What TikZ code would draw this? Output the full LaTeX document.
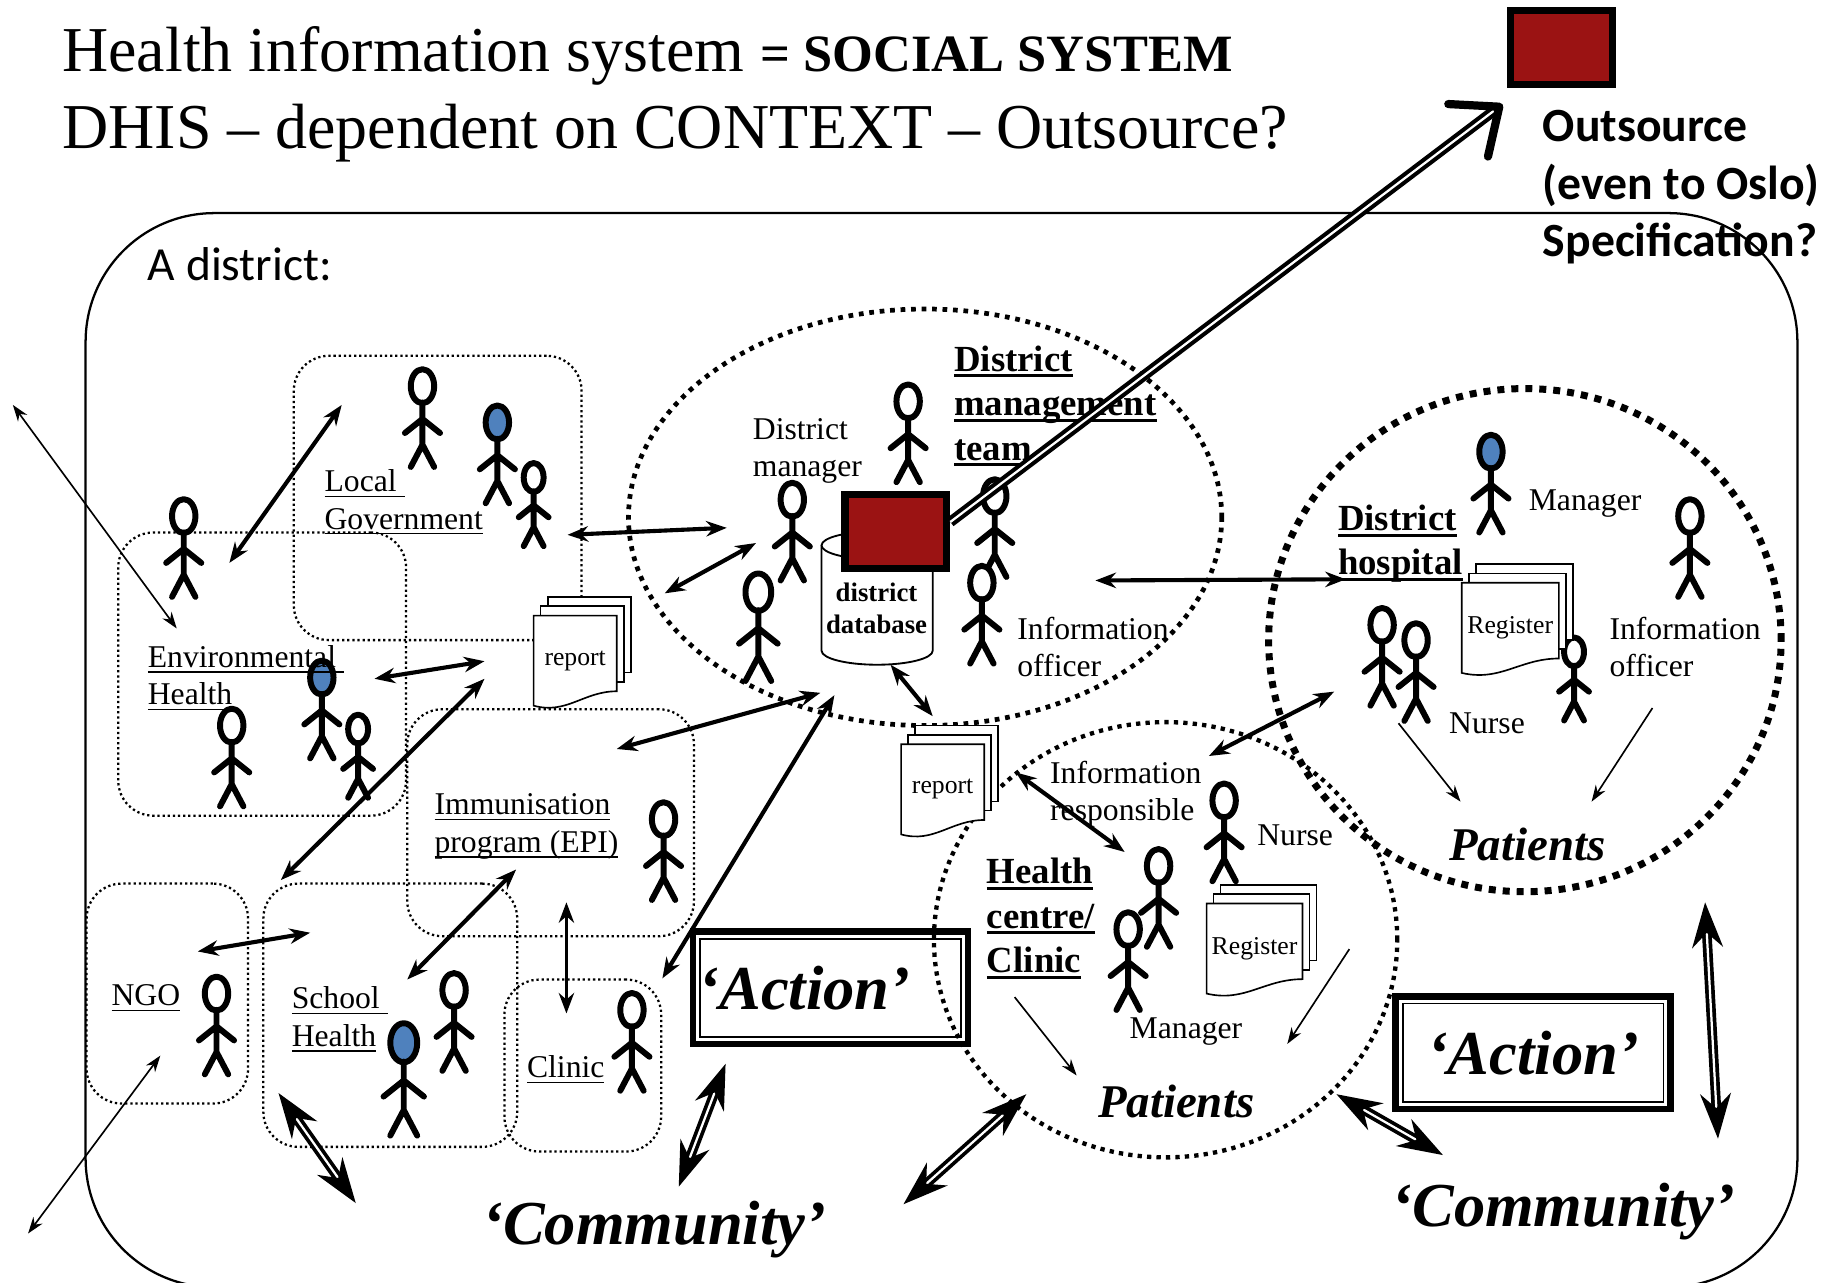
\documentclass[tikz,border=0pt]{standalone}
\usepackage{fontspec}
\setmainfont{Liberation Serif}
\newfontfamily\calibri{Carlito}
\usetikzlibrary{arrows.meta,shapes.geometric}

\definecolor{hubred}{HTML}{9B1313}
\definecolor{headblue}{HTML}{4F81BD}

% underline that also keeps a trailing space
\newcommand\undl[2][0.7pt]{\setbox0\hbox{#2}\rlap{\rule[-0.17em]{\wd0}{#1}}\box0}

% stack of three sheets: name, x, y (top left of front sheet), width, height, text
\newcommand\paperstack[6]{%
  \foreach \o in {12,6}{
    \draw[paper] ({#2+\o},{#3-1.33*\o}) rectangle ({#2+#4+\o},{#3+0.84*#5-1.33*\o});
  }
  \draw[paper] (#2,{#3+#5}) -- (#2,#3) -- ({#2+#4},#3) -- ({#2+#4},{#3+0.84*#5})
    .. controls ({#2+0.6*#4},{#3+0.84*#5}) and ({#2+0.4*#4},{#3+1.1*#5}) .. (#2,{#3+#5}) -- cycle;
  \node[doctext] (#1) at ({#2+0.5*#4},{#3+0.5*#5}) {#6};
}

\tikzset{
  stick/.style={line width=2.9pt, line cap=round, line join=round},
  person/.pic={
    \draw[stick, fill=#1] (0,0) ellipse[x radius=10, y radius=14.5];
    \draw[stick] (0,14) -- (0,51) (-15,40) -- (0,28) -- (15,40) (-10,69) -- (0,50) -- (10,69);
  },
  frame/.style={draw, line width=1.1pt, rounded corners=2.2cm, inner sep=0, outer sep=0,
    minimum width=29.26cm, minimum height=18.36cm},
  unit/.style={draw, line width=1.1pt, dash pattern=on 1.1pt off 1.4pt, rounded corners=0.6cm,
    inner sep=0, outer sep=0},
  teamring/.style={ellipse, draw, line width=2.3pt, dash pattern=on 2.3pt off 2.8pt, inner sep=0},
  hospring/.style={ellipse, draw, line width=3.4pt, dash pattern=on 3.4pt off 3.4pt, inner sep=0},
  hcring/.style={ellipse, draw, line width=2.1pt, dash pattern=on 2.1pt off 2.5pt, inner sep=0},
  redbox/.style={draw, line width=3.5pt, fill=hubred, inner sep=0,
    minimum width=1.74cm, minimum height=1.26cm},
  paper/.style={draw, fill=white, line width=0.8pt},
  cyl/.style={draw, fill=white, line width=0.9pt},
  lbl/.style={inner sep=0, anchor=north west, align=left, font=\fontsize{15.4}{18.2}\selectfont},
  blbl/.style={lbl, font=\bfseries\fontsize{17.9}{21.6}\selectfont},
  doctext/.style={inner sep=0, font=\fontsize{12.5}{15}\selectfont},
  dbtext/.style={inner sep=0, align=center, font=\bfseries\fontsize{13}{15.4}\selectfont},
  pat/.style={inner sep=0, font=\bfseries\itshape\fontsize{22.8}{27}\selectfont},
  comm/.style={inner sep=0, anchor=base, font=\bfseries\itshape\fontsize{30.4}{36}\selectfont},
  actbox/.style={draw, line width=3.2pt, inner sep=0, outer sep=0,
    minimum width=4.7cm, minimum height=1.92cm, font=\bfseries\itshape\fontsize{30.4}{36}\selectfont},
  thinlink/.style={line width=0.8pt, >={Stealth[length=8pt,width=5.5pt]}},
  link/.style={line width=2pt, >={Stealth[length=10pt,width=7.5pt]}},
  biglink/.style={line width=1.8pt, double=white, double distance=1.1pt,
    >={Stealth[length=22pt,width=15pt]}},
}

\begin{document}
\begin{tikzpicture}[x=0.02cm, y=-0.02cm]
\useasboundingbox (0,0) rectangle (1568,1096);

% headings
\node[inner sep=0, anchor=north west, align=left, font=\fontsize{31.1}{37.6}\selectfont] (title) at (53,22)
  {Health information system {\bfseries\fontsize{25.5}{30}\selectfont= SOCIAL SYSTEM}\\DHIS – dependent on CONTEXT – Outsource?};
\node[redbox] (ext) at (1334.5,40.5) {};
\node[inner sep=0, anchor=north west, align=left, font=\calibri\bfseries\fontsize{23.2}{27.9}\selectfont] (outs) at (1318,94)
  {Outsource\\(even to Oslo)\\Specification?};

% the district and its units
\node[frame] (district) at (804.5,641) {};
\node[inner sep=0, anchor=north west, font=\calibri\fontsize{23.1}{27}\selectfont] (distl) at (126,211) {A district:};
\node[unit, minimum width=4.92cm, minimum height=4.86cm] (lgov) at (374,425.5) {};
\node[unit, minimum width=4.92cm, minimum height=4.84cm] (envh) at (224,576) {};
\node[unit, minimum width=4.9cm, minimum height=3.88cm] (epi) at (470.5,703) {};
\node[unit, minimum width=2.76cm, minimum height=3.76cm] (ngo) at (143,849) {};
\node[unit, minimum width=4.34cm, minimum height=4.5cm] (school) at (333.5,867.5) {};
\node[unit, minimum width=2.68cm, minimum height=2.94cm] (clinic) at (498,910.5) {};

\node[hcring, minimum width=7.92cm, minimum height=7.44cm] (hc) at (996,803) {};
\node[hospring, minimum width=8.76cm, minimum height=8.6cm] (hosp) at (1303,547) {};
\node[teamring, minimum width=10.14cm, minimum height=7.12cm] (team) at (790.5,442) {};

% people
\pic at (361,330) {person=white};
\pic at (425,361) {person=headblue};
\pic[scale=0.85] at (456,408) {person=white};
\pic at (157,441) {person=white};
\pic at (275,579) {person=headblue};
\pic[scale=0.85] at (306,623) {person=white};
\pic at (198,620) {person=white};
\pic at (567,700) {person=white};
\pic at (185,849) {person=white};
\pic[scale=1.15] at (345,891) {person=headblue};
\pic at (388,846) {person=white};
\pic at (540,863) {person=white};
\pic at (776,343) {person=white};
\pic at (677,427) {person=white};
\pic[scale=1.1] at (648,506) {person=white};
\pic at (850,424) {person=white};
\pic at (839,498) {person=white};
\pic at (1274,386) {person=headblue};
\pic at (1444,441) {person=white};
\pic at (1181,534) {person=white};
\pic at (1210,547) {person=white};
\pic[scale=0.85] at (1345,557) {person=white};
\pic at (1046,684) {person=white};
\pic at (990,740) {person=white};
\pic at (964,794) {person=white};

% paper
\paperstack{rep1}{456}{526}{71}{77}{report}
\paperstack{rep2}{770}{636}{71}{77}{report}
\paperstack{reg1}{1249}{498}{83}{77}{Register}
\paperstack{reg2}{1031}{772}{82}{77}{Register}

% district database with the computer in front
\draw[cyl] (702,466) -- (702,556) arc[start angle=180, end angle=0, x radius=47.5, y radius=12] -- (797,466);
\draw[cyl] (749.5,466) ellipse[x radius=47.5, y radius=12];
\node[dbtext] (db) at (749,520) {district\\database};
\node[redbox] (hub) at (765.5,454) {};

% labels
\node[lbl] (lgovl) at (277,401) {\undl{Local\ }\\\undl{Government}};
\node[lbl] (envhl) at (126,551) {\undl{Environmental\ }\\\undl{Health}};
\node[lbl] (epil) at (371,678) {\undl{Immunisation}\\\undl{program (EPI)}};
\node[lbl] (ngol) at (95,841) {\undl{NGO}};
\node[lbl] (schooll) at (249,843) {\undl{School\ }\\\undl{Health}};
\node[lbl] (clinicl) at (450,902) {\undl{Clinic}};
\node[lbl] (dman) at (643,357) {District\\manager};
\node[lbl] (dinfo) at (869,527) {Information\\officer};
\node[lbl] (hman) at (1306,418) {Manager};
\node[lbl] (hinfo) at (1375,527) {Information\\officer};
\node[lbl] (hnurse) at (1238,609) {Nurse};
\node[lbl] (cinfo) at (897,650) {Information\\responsible};
\node[lbl] (cnurse) at (1074,704) {Nurse};
\node[lbl] (cman) at (965,869) {Manager};
\node[blbl] (teaml) at (815,295) {\undl[1.5pt]{District}\\\undl[1.5pt]{management}\\\undl[1.5pt]{team}};
\node[blbl] (hospl) at (1143,431) {\undl[1.5pt]{District}\\\undl[1.5pt]{hospital}};
\node[blbl] (hcl) at (843,733) {\undl[1.5pt]{Health}\\\undl[1.5pt]{centre/}\\\undl[1.5pt]{Clinic}};
\node[pat] (hpat) at (1305,722) {Patients};
\node[pat] (cpat) at (1005,941) {Patients};

% action and community
\node[actbox, text width=4.5cm, align=left] (act1) at (709.5,844) {‘Action’};
\node[actbox] (act2) at (1310,899.5) {‘Action’};
\draw[line width=0.9pt] ([shift={(6,6)}]act1.north west) rectangle ([shift={(-6,-6)}]act1.south east);
\draw[line width=0.9pt] ([shift={(6,6)}]act2.north west) rectangle ([shift={(-6,-6)}]act2.south east);
\node[comm] (com1) at (559,1063) {‘Community’};
\node[comm] (com2) at (1336,1048) {‘Community’};

% end points of the links
\coordinate (w1) at (11,346);   \coordinate (w2) at (151,537);
\coordinate (w3) at (24,1054);  \coordinate (w4) at (137,902);
\coordinate (hn) at (1195,618); \coordinate (hp1) at (1248,685);
\coordinate (hi) at (1412,605); \coordinate (hp2) at (1360,685);
\coordinate (cm) at (867,852);  \coordinate (cp1) at (920,919);
\coordinate (cr) at (1153,811); \coordinate (cp2) at (1100,892);
\coordinate (e1) at (196,481);  \coordinate (g1) at (292,346);
\coordinate (g2) at (485,457);  \coordinate (t1) at (621,451);
\coordinate (r0) at (568,507);  \coordinate (t2) at (646,464);
\coordinate (e2) at (320,580);  \coordinate (r1) at (414,565);
\coordinate (s1) at (240,752);  \coordinate (r2) at (414,580);
\coordinate (i1) at (527,640);  \coordinate (t3) at (701,592);
\coordinate (k1) at (566,836);  \coordinate (t4) at (713,594);
\coordinate (d1) at (761,568);  \coordinate (r3) at (797,612);
\coordinate (t5) at (936,496);  \coordinate (h1) at (1150,495);
\coordinate (c1) at (1033,646); \coordinate (h2) at (1140,591);
\coordinate (r4) at (868,660);  \coordinate (c2) at (961,728);
\coordinate (n1) at (169,813);  \coordinate (s2) at (265,797);
\coordinate (s3) at (348,837);  \coordinate (i2) at (441,743);
\coordinate (i3) at (484,771);  \coordinate (k2) at (484,866);
\coordinate (s4) at (238,934);  \coordinate (m1) at (304,1028);
\coordinate (a1) at (620,909);  \coordinate (m2) at (580,1014);
\coordinate (c3) at (877,935);  \coordinate (m3) at (772,1029);
\coordinate (c4) at (1142,935); \coordinate (m4) at (1233,987);
\coordinate (h3) at (1457,771); \coordinate (m5) at (1468,973);

% links
\draw[thinlink,<->] (w1) -- (w2);
\draw[thinlink,<->] (w3) -- (w4);
\draw[thinlink,->] (hn) -- (hp1);
\draw[thinlink,->] (hi) -- (hp2);
\draw[thinlink,->] (cm) -- (cp1);
\draw[thinlink,->] (cr) -- (cp2);
\draw[link,<->] (e1) -- (g1);
\draw[link,<->] (g2) -- (t1);
\draw[link,<->] (r0) -- (t2);
\draw[link,<->] (e2) -- (r1);
\draw[link,<->] (s1) -- (r2);
\draw[link,<->] (i1) -- (t3);
\draw[link,<->] (k1) -- (t4);
\draw[link,<->] (d1) -- (r3);
\draw[link,<->] (t5) -- (h1);
\draw[link,<->] (c1) -- (h2);
\draw[link,<->] (r4) -- (c2);
\draw[link,<->] (n1) -- (s2);
\draw[link,<->] (s3) -- (i2);
\draw[link,<->,line width=1.3pt] (i3) -- (k2);
\draw[biglink,<->] (s4) -- (m1);
\draw[biglink,<->] (a1) -- (m2);
\draw[biglink,<->] (c3) -- (m3);
\draw[biglink,<->] (c4) -- (m4);
\draw[biglink,<->] (h3) -- (m5);
\draw[biglink,line width=2pt,->,>={Straight Barb[round,length=19pt,width=32pt,line width=4pt]}]
  ([shift={(0,-8)}]hub.east) -- ([shift={(-4,14)}]ext.south west);
\end{tikzpicture}
\end{document}
